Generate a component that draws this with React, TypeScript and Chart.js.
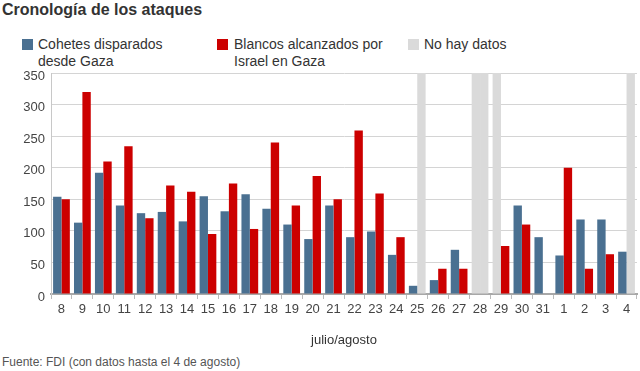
import React, { useEffect, useRef } from "react";
import { Chart, registerables } from "chart.js";

Chart.register(...registerables);

const categories = [
  "8", "9", "10", "11", "12", "13", "14", "15", "16", "17", "18", "19", "20", "21",
  "22", "23", "24", "25", "26", "27", "28", "29", "30", "31", "1", "2", "3", "4",
];
const rockets = [
  154, 113, 192, 140, 128, 130, 115, 155, 131, 158, 135, 110, 87, 140,
  90, 99, 62, 13, 22, 70, null, null, 140, 90, 61, 118, 118, 67,
];
const targets = [
  150, 320, 210, 234, 120, 172, 162, 95, 175, 103, 240, 140, 187, 150,
  259, 159, 90, null, 40, 40, null, 76, 110, null, 200, 40, 63, null,
];
const noDataRocketDays = ["28", "29"];
const noDataTargetDays = ["25", "28", "4"];
const yTicks = [0, 50, 100, 150, 200, 250, 300, 350];

const BLUE = "#4a7091";
const RED = "#cc0000";
const GRAY = "#dadada";
const FONT = "'Liberation Sans', Arial, Helvetica, sans-serif";

export default function App() {
  const ref = useRef<HTMLCanvasElement | null>(null);

  useEffect(() => {
    document.body.style.margin = "0";
    const yMax = yTicks[yTicks.length - 1];
    const noDataR = categories.map((c) => (noDataRocketDays.includes(c) ? yMax : null));
    const noDataT = categories.map((c) => (noDataTargetDays.includes(c) ? yMax : null));
    const common = { barPercentage: 1.0, categoryPercentage: 0.8, borderWidth: 0 };
    const chart = new Chart(ref.current as HTMLCanvasElement, {
      type: "bar",
      data: {
        labels: categories,
        datasets: [
          { label: "Cohetes disparados desde Gaza", data: rockets, backgroundColor: BLUE, stack: "a", ...common },
          { label: "Blancos alcanzados por Israel en Gaza", data: targets, backgroundColor: RED, stack: "b", ...common },
          { label: "No hay datos", data: noDataR, backgroundColor: GRAY, stack: "a", ...common },
          { label: "No hay datos ", data: noDataT, backgroundColor: GRAY, stack: "b", ...common },
        ],
      },
      options: {
        animation: false,
        responsive: false,
        maintainAspectRatio: false,
        layout: { padding: { left: 0, right: 3, top: 7, bottom: 0 } },
        plugins: { legend: { display: false }, tooltip: { enabled: false }, title: { display: false } },
        scales: {
          x: {
            grid: { drawOnChartArea: false, drawTicks: true, tickLength: 5, color: "#bbbbbb" },
            border: { display: true, color: "#a8a8a8", width: 2 },
            ticks: { color: "#444444", font: { family: FONT, size: 13 }, padding: 3, maxRotation: 0, autoSkip: false },
            title: { display: true, text: "julio/agosto", color: "#333333", font: { family: FONT, size: 13 }, padding: { top: 4, bottom: 4 } },
            afterFit: (s: any) => { s.height = 58; s.paddingLeft = 0; s.paddingRight = 0; },
          },
          y: {
            stacked: true,
            min: 0,
            max: yMax,
            afterBuildTicks: (s: any) => { s.ticks = yTicks.map((v) => ({ value: v })); },
            grid: { color: "#d4d4d4", drawTicks: false, lineWidth: 1 },
            border: { display: true, color: "#c8c8c8", width: 1 },
            ticks: { color: "#444444", font: { family: FONT, size: 13 }, padding: 6, labelOffset: 3 },
            afterFit: (s: any) => { s.width = 51; s.paddingTop = 0; s.paddingBottom = 0; },
          },
        },
      },
    });
    return () => chart.destroy();
  }, []);

  const sq = (c: string) => ({ position: "absolute" as const, width: 11, height: 11, background: c, top: 39 });
  const txt = { position: "absolute" as const, top: 36, fontSize: 14, lineHeight: "17px", color: "#333", fontFamily: FONT };

  return (
    <div style={{ position: "relative", width: 640, height: 371, background: "#fff", overflow: "hidden", fontFamily: FONT }}>
      <div style={{ position: "absolute", left: 2, top: 1, fontSize: 16, fontWeight: "bold", color: "#333" }}>
        Cronología de los ataques
      </div>
      <div style={{ ...sq(BLUE), left: 22 }} />
      <div style={{ ...txt, left: 38 }}>Cohetes disparados<br />desde Gaza</div>
      <div style={{ ...sq(RED), left: 217 }} />
      <div style={{ ...txt, left: 234 }}>Blancos alcanzados por<br />Israel en Gaza</div>
      <div style={{ ...sq(GRAY), left: 408 }} />
      <div style={{ ...txt, left: 424 }}>No hay datos</div>
      <canvas ref={ref} width={640} height={286} style={{ position: "absolute", left: 0, top: 66, width: 640, height: 286 }} />
      <div style={{ position: "absolute", left: 2, top: 355, fontSize: 12, color: "#555" }}>
        Fuente: FDI (con datos hasta el 4 de agosto)
      </div>
    </div>
  );
}
